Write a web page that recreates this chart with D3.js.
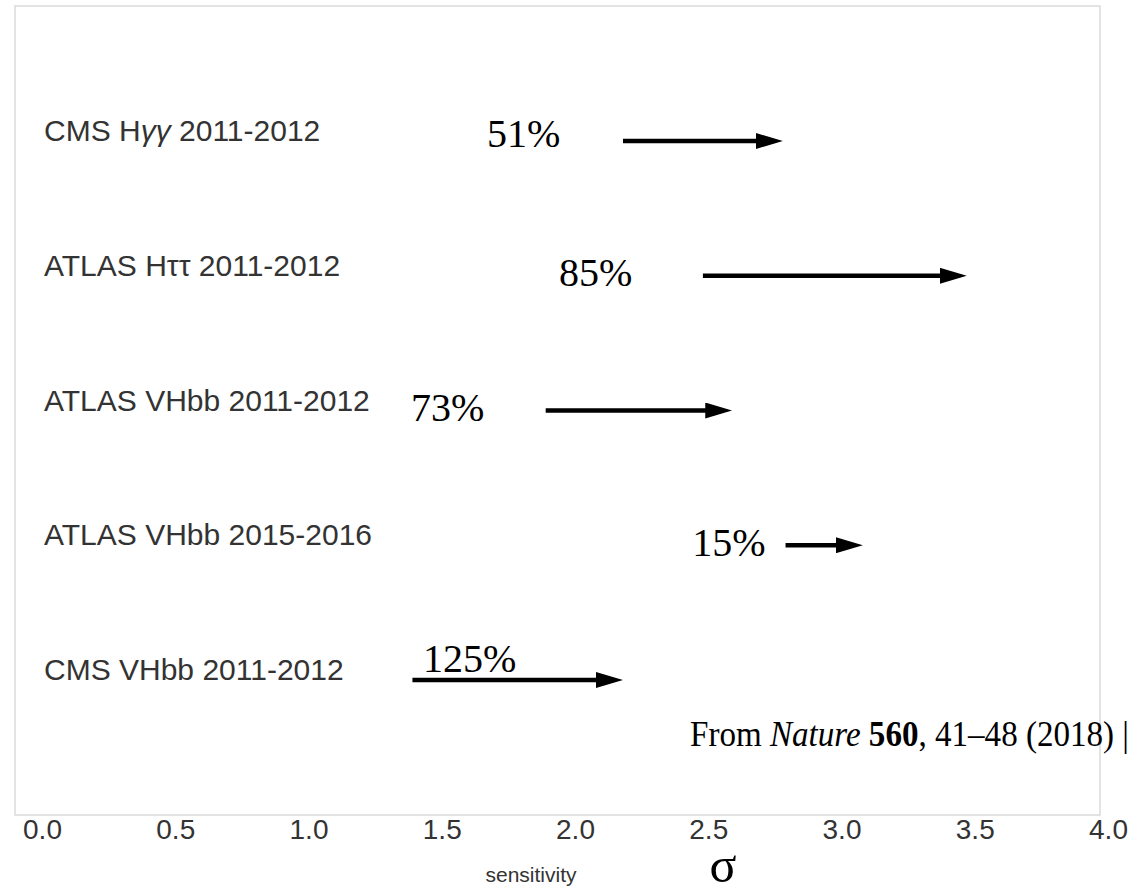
<!DOCTYPE html>
<html>
<head>
<meta charset="utf-8">
<script src="https://cdn.jsdelivr.net/npm/d3@7"></script>
<style>
  html, body { margin: 0; padding: 0; background: #fff; }
  svg { display: block; }
</style>
</head>
<body>
<script>
// Analyses, top to bottom (name prefix + italic particle part + run period)
const analysisPrefix = ["CMS H", "ATLAS H", "ATLAS VHbb", "ATLAS VHbb", "CMS VHbb"];
const analysisParticles = ["\u03B3\u03B3", "\u03C4\u03C4", "", "", ""];
const analysisPeriod = ["2011-2012", "2011-2012", "2011-2012", "2015-2016", "2011-2012"];
// Expected significance without / with machine learning (sigma)
const sigmaBefore = [2.18, 2.48, 1.89, 2.79, 1.39];
const sigmaAfter  = [2.78, 3.47, 2.59, 3.08, 2.18];
// Equivalent gain in data, printed beside each arrow
const gainLabels = ["51%", "85%", "73%", "15%", "125%"];
// Where each gain label starts along the sigma axis
const gainLabelAt = [1.67, 1.94, 1.385, 2.44, 1.43];
// Axis ticks
const xTicks = [0, 0.5, 1, 1.5, 2, 2.5, 3, 3.5, 4];

const W = 1136, H = 893;
const svg = d3.select("body").append("svg")
  .attr("width", W).attr("height", H);

const rows = analysisPrefix.map((p, i) => ({
  key: i,
  prefix: p,
  particles: analysisParticles[i],
  period: analysisPeriod[i],
  from: sigmaBefore[i], to: sigmaAfter[i],
  gain: gainLabels[i], at: gainLabelAt[i]
}));

const x = d3.scaleLinear().domain([0, 4]).range([42, 1108]);
const y = d3.scalePoint().domain(rows.map(d => d.key)).range([141, 680]);

// Plot frame
svg.append("rect")
  .attr("x", 15).attr("y", 6)
  .attr("width", 1085).attr("height", 809)
  .attr("fill", "none")
  .attr("stroke", "#dcdcdc")
  .attr("stroke-width", 1.6);

// Arrow head marker: the tip sits HEAD_TIP px beyond the shaft end
const HEAD_LEN = 27, HEAD_TIP = 20;
svg.append("defs").append("marker")
  .attr("id", "head")
  .attr("viewBox", `0 0 ${HEAD_LEN} 16`)
  .attr("refX", HEAD_LEN - HEAD_TIP).attr("refY", 8)
  .attr("markerWidth", HEAD_LEN).attr("markerHeight", 16)
  .attr("markerUnits", "userSpaceOnUse")
  .attr("orient", "auto")
  .append("path")
  .attr("d", `M0,0 L${HEAD_LEN},8 L0,16 Z`)
  .attr("fill", "#000");

// Category labels
const cat = svg.append("g").selectAll("text")
  .data(rows).join("text")
  .attr("x", 44)
  .attr("y", d => y(d.key))
  .attr("font-family", "Liberation Sans, Arial, sans-serif")
  .attr("font-size", 30)
  .attr("fill", "#333");
cat.append("tspan").text(d => d.prefix);
cat.append("tspan")
  .attr("font-style", d => d.particles === "\u03B3\u03B3" ? "italic" : "normal")
  .text(d => d.particles);
cat.append("tspan").text(d => " " + d.period);

// Arrows from the baseline significance to the improved one
svg.append("g").selectAll("line")
  .data(rows).join("line")
  .attr("x1", d => x(d.from))
  .attr("x2", d => x(d.to) - HEAD_TIP)
  .attr("y1", d => y(d.key))
  .attr("y2", d => y(d.key))
  .attr("stroke", "#000")
  .attr("stroke-width", 4.5)
  .attr("marker-end", "url(#head)");

// Gain labels
const gainDy = [6, 10, 10, 11, -8];
svg.append("g").selectAll("text")
  .data(rows).join("text")
  .attr("x", d => x(d.at))
  .attr("y", (d, i) => y(d.key) + gainDy[i])
  .attr("font-family", "Liberation Serif, Times New Roman, serif")
  .attr("font-size", 40)
  .attr("fill", "#000")
  .text(d => d.gain);

// Source note
const note = svg.append("text")
  .attr("x", 690).attr("y", 746)
  .attr("font-family", "Liberation Serif, Times New Roman, serif")
  .attr("font-size", 36)
  .attr("fill", "#000")
  .attr("textLength", 439)
  .attr("lengthAdjust", "spacingAndGlyphs");
note.append("tspan").text("From ");
note.append("tspan").attr("font-style", "italic").text("Nature");
note.append("tspan").text(" ");
note.append("tspan").attr("font-weight", "bold").text("560");
note.append("tspan").text(", 41\u201348 (2018) |");

// X axis tick labels
const xAxis = d3.axisBottom(x)
  .tickValues(xTicks)
  .tickFormat(d3.format(".1f"))
  .tickSize(0)
  .tickPadding(0);
const gx = svg.append("g")
  .attr("transform", "translate(0,817)")
  .call(xAxis);
gx.select(".domain").remove();
gx.selectAll("text")
  .attr("font-family", "Liberation Sans, Arial, sans-serif")
  .attr("font-size", 28)
  .attr("fill", "#333")
  .attr("dy", "0.8em");

// Axis title
svg.append("text")
  .attr("x", 531).attr("y", 882)
  .attr("text-anchor", "middle")
  .attr("font-family", "Liberation Sans, Arial, sans-serif")
  .attr("font-size", 21)
  .attr("fill", "#333")
  .text("sensitivity");

svg.append("text")
  .attr("x", 723).attr("y", 882)
  .attr("text-anchor", "middle")
  .attr("font-family", "Liberation Serif, Times New Roman, serif")
  .attr("font-size", 50)
  .attr("fill", "#000")
  .text("\u03C3");
</script>
</body>
</html>
